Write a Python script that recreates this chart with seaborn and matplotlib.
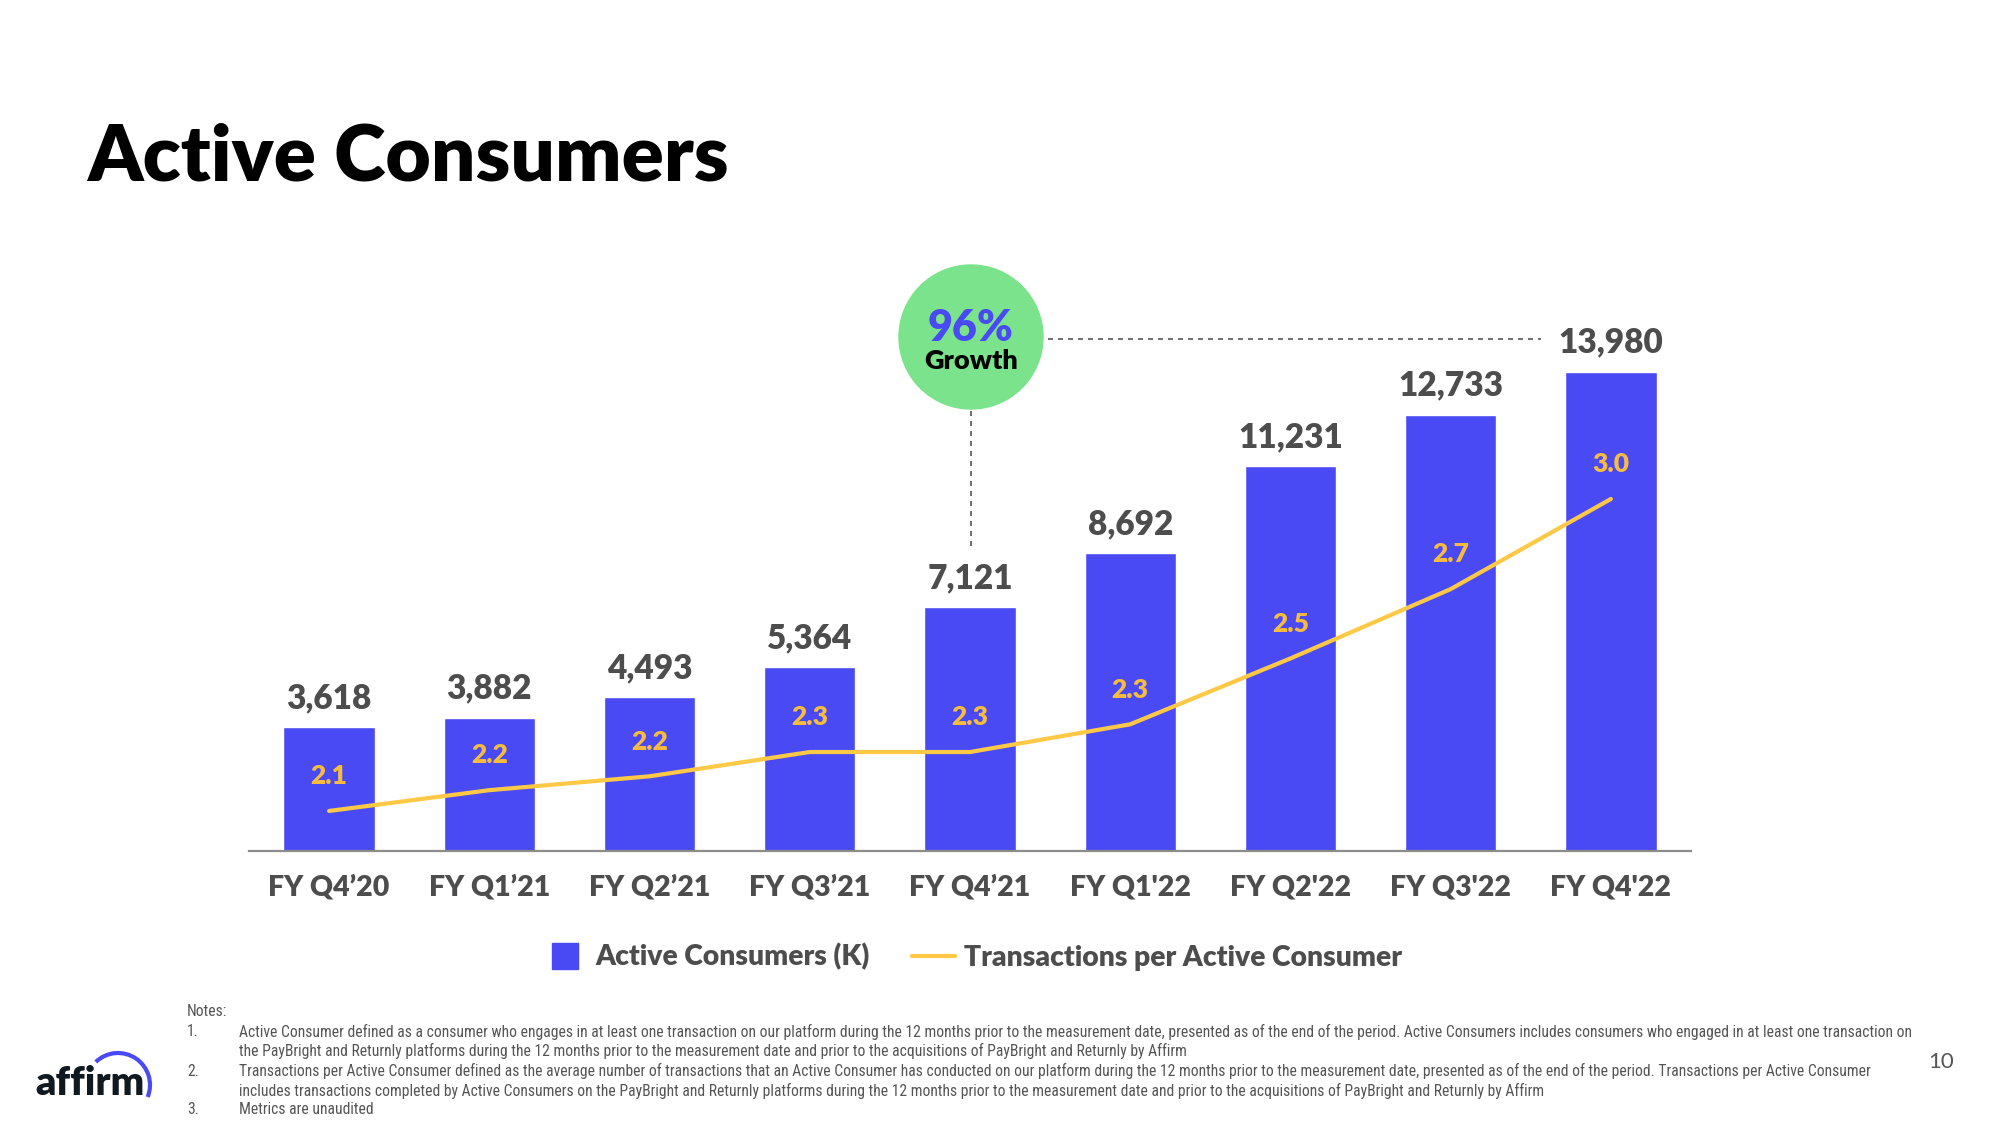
import matplotlib
matplotlib.use("Agg")
import matplotlib.pyplot as plt
import seaborn as sns
import numpy as np
import pandas as pd
from matplotlib.patches import Circle, Arc
from matplotlib.lines import Line2D

# ---------------- data ----------------
quarters = ["FY Q4’20", "FY Q1’21", "FY Q2’21", "FY Q3’21", "FY Q4’21",
            "FY Q1'22", "FY Q2'22", "FY Q3'22", "FY Q4'22"]
active_consumers = [3618, 3882, 4493, 5364, 7121, 8692, 11231, 12733, 13980]
txn_per_consumer = [2.1, 2.16, 2.2, 2.27, 2.27, 2.35, 2.54, 2.74, 3.0]
txn_labels = ["2.1", "2.2", "2.2", "2.3", "2.3", "2.3", "2.5", "2.7", "3.0"]
legend_labels = ["Active Consumers (K)", "Transactions per Active Consumer"]
title = "Active Consumers"
growth_pct = "96%"
growth_word = "Growth"
notes_header = "Notes:"
notes = [
    ("1.", "Active Consumer defined as a consumer who engages in at least one transaction on our platform during the 12 months prior to the measurement date, presented as of the end of the period. Active Consumers includes consumers who engaged in at least one transaction on"),
    ("", "the PayBright and Returnly platforms during the 12 months prior to the measurement date and prior to the acquisitions of PayBright and Returnly by Affirm"),
    ("2.", "Transactions per Active Consumer defined as the average number of transactions that an Active Consumer has conducted on our platform during the 12 months prior to the measurement date, presented as of the end of the period. Transactions per Active Consumer"),
    ("", "includes transactions completed by Active Consumers on the PayBright and Returnly platforms during the 12 months prior to the measurement date and prior to the acquisitions of PayBright and Returnly by Affirm"),
    ("3.", "Metrics are unaudited"),
]
page_number = "10"
logo_text = "affirm"

# ---------------- style ----------------
BLUE = "#4A4AF4"
YELLOW = "#FFC845"
YELLOW_TXT = "#F7BC3E"
DARK = "#4D4D4D"
GREEN = "#7AE38B"
HEAVY = "heavy"

sns.set_theme(style="white")
plt.rcParams["font.family"] = ["Lato", "DejaVu Sans"]

W, H = 2000, 1125
fig = plt.figure(figsize=(20, 11.25), dpi=100)
fig.patch.set_facecolor("white")

# main axes: baseline at y=851px, x-range 249..1691px
ax = fig.add_axes([249 / W, (H - 851) / H, 1442 / W, 601 / H])
df = pd.DataFrame({"quarter": quarters, "consumers": active_consumers,
                   "txn": txn_per_consumer})

sns.barplot(data=df, x="quarter", y="consumers", color=BLUE, width=0.57,
            saturation=1, ax=ax, zorder=2)
ax.set_xlim(-0.5, 8.5)
ax.set_ylim(0, 17541)
ax.set_xlabel("")
ax.set_ylabel("")
ax.set_yticks([])
for s in ["top", "right", "left"]:
    ax.spines[s].set_visible(False)
ax.spines["bottom"].set_color("#8C8C8C")
ax.spines["bottom"].set_linewidth(1.6)
ax.tick_params(axis="x", length=0, pad=17, labelsize=20.5, labelcolor=DARK)
for t in ax.get_xticklabels():
    t.set_fontweight(HEAVY)

for i, v in enumerate(active_consumers):
    ax.annotate(f"{v:,}", (i, v), xytext=(0, 21), textcoords="offset points",
                ha="center", va="center", fontsize=24, fontweight=HEAVY,
                color=DARK)

ax2 = ax.twinx()
sns.lineplot(data=df, x="quarter", y="txn", color=YELLOW, linewidth=3,
             sort=False, ax=ax2, zorder=3)
ax2.set_ylim(1.9845, 3.7183)
ax2.set_yticks([])
ax2.set_ylabel("")
for s in ["top", "right", "left", "bottom"]:
    ax2.spines[s].set_visible(False)
for i, (v, lab) in enumerate(zip(txn_per_consumer, txn_labels)):
    ax2.annotate(lab, (i, v), xytext=(0, 25), textcoords="offset points",
                 ha="center", va="center", fontsize=19, fontweight=HEAVY,
                 color=YELLOW_TXT)

# legend
handles = [Line2D([], [], marker="s", markersize=19.4, linestyle="none",
                  color=BLUE),
           Line2D([], [], color=YELLOW, linewidth=3)]
fig.legend(handles, legend_labels, loc="center",
           bbox_to_anchor=(973 / W, 1 - 957 / H), ncol=2, frameon=False,
           handlelength=1.5, handletextpad=0.35, columnspacing=1.5,
           prop={"size": 20.3, "weight": HEAVY}, labelcolor=DARK)

# overlay axes in pixel coordinates for decorations
ov = fig.add_axes([0, 0, 1, 1], zorder=5)
ov.set_xlim(0, W)
ov.set_ylim(H, 0)
ov.axis("off")
ov.patch.set_alpha(0)

ov.text(87, 158, title, fontsize=56.3, fontweight=HEAVY, color="black",
        ha="left", va="center")

ov.add_patch(Circle((971, 337), 72, color=GREEN, zorder=3))
ov.text(971, 328, growth_pct, fontsize=31, fontweight=HEAVY, color=BLUE,
        ha="center", va="center", zorder=4)
ov.text(971, 361, growth_word, fontsize=19.5, fontweight=HEAVY, color="black",
        ha="center", va="center", zorder=4)
ov.plot([1048, 1541], [339, 339], linestyle=(0, (3, 3)), color="#555555",
        linewidth=1.2)
ov.plot([971, 971], [411, 551], linestyle=(0, (3, 3)), color="#555555",
        linewidth=1.2)

# notes (font size fitted so that the first line spans the reference width)
NOTE_C = "#555555"
note_font = ["Liberation Sans Narrow", "Roboto Condensed", "DejaVu Sans"]
renderer = fig.canvas.get_renderer()
probe = ov.text(239, 1032, notes[0][1], fontsize=10, family=note_font,
                fontstretch="condensed")
wpx = probe.get_window_extent(renderer).width
probe.remove()
note_fs = min(11.5, 10 * 1660 / wpx)

ov.text(187, 1012, notes_header, fontsize=note_fs, color=NOTE_C, ha="left",
        va="center", family=note_font, fontstretch="condensed")
ys = [1032, 1051, 1071, 1091, 1110]
for (num, txt), y in zip(notes, ys):
    if num:
        ov.text(187, y, num, fontsize=note_fs, color=NOTE_C, ha="left",
                va="center", family=note_font, fontstretch="condensed")
    ov.text(239, y, txt, fontsize=note_fs, color=NOTE_C, ha="left",
            va="center", family=note_font, fontstretch="condensed")

ov.text(1941, 1062, page_number, fontsize=16, color=NOTE_C, ha="center",
        va="center", fontweight="normal")

# logo
ov.text(35, 1095, logo_text, fontsize=28.5, fontweight=HEAVY, color="#101820",
        ha="left", va="baseline")
ov.add_patch(Arc((118, 1085), 64, 64, theta1=-134, theta2=22, color=BLUE,
                 linewidth=3))

fig.savefig("out.png", dpi=100, facecolor="white")
